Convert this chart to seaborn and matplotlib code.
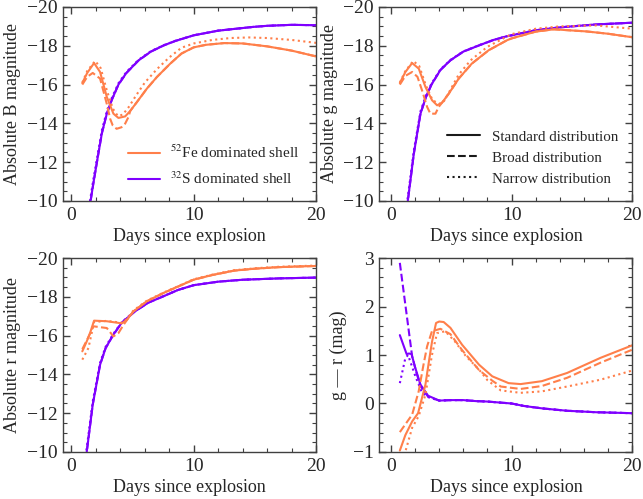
import numpy as np
import pandas as pd
import matplotlib
matplotlib.use('Agg')
import matplotlib.pyplot as plt
import seaborn as sns
from matplotlib.ticker import MultipleLocator
from matplotlib.lines import Line2D

# ==========================================
# 1. Light-curve values
# ==========================================
# --- B band ---
fe_B_std_t = [0.9, 1.3, 1.86, 2.35, 2.9, 3.44, 3.85, 4.4, 4.81, 5.36, 6.17, 6.99, 8.08, 9.0, 10.0, 11.0, 12.5, 14.0, 16.0, 18.0, 20.0]
fe_B_std_m = [-16.08, -16.6, -17.11, -16.65, -15.36, -14.5, -14.28, -14.36, -14.64, -15.1, -15.79, -16.39, -17.08, -17.6, -17.92, -18.05, -18.14, -18.12, -17.97, -17.75, -17.45]
fe_B_brd_t = [0.9, 1.3, 1.75, 2.35, 2.9, 3.17, 3.38, 3.7, 4.1, 4.4, 4.67, 4.81, 5.36, 6.17, 6.99, 8.08, 9.0, 10.0, 11.0, 12.5, 14.0, 16.0, 18.0, 20.0]
fe_B_brd_m = [-16.0, -16.4, -16.6, -16.31, -15.0, -14.24, -13.9, -13.72, -13.8, -13.99, -14.33, -14.64, -15.1, -15.79, -16.39, -17.08, -17.6, -17.92, -18.05, -18.14, -18.12, -17.97, -17.75, -17.45]
fe_B_nar_t = [0.9, 1.3, 1.95, 2.4, 2.9, 3.4, 3.8, 4.2, 4.7, 5.3, 6.0, 7.0, 8.0, 9.0, 10.0, 11.5, 13.0, 14.5, 16.0, 18.0, 20.0]
fe_B_nar_m = [-16.1, -16.7, -17.22, -16.85, -15.7, -14.75, -14.38, -14.45, -14.85, -15.45, -16.1, -16.8, -17.4, -17.9, -18.12, -18.3, -18.4, -18.43, -18.4, -18.3, -18.15]
s_B_t = [1.45, 1.8, 2.21, 2.5, 2.9, 3.3, 3.85, 4.5, 5.5, 6.5, 7.55, 8.5, 10.0, 12.0, 14.8, 16.0, 18.0, 20.0]
s_B_m = [-9.5, -10.9, -12.44, -13.5, -14.5, -15.2, -16.0, -16.6, -17.25, -17.7, -18.02, -18.25, -18.54, -18.78, -18.97, -19.03, -19.08, -19.06]
s_B_nar_m = [-9.7, -11.1, -12.6, -13.65, -14.62, -15.3, -16.07, -16.65, -17.28, -17.72, -18.03, -18.26, -18.54, -18.78, -18.97, -19.03, -19.08, -19.06]

# --- g band ---
fe_g_std_t = [0.74, 1.2, 1.76, 2.31, 2.86, 3.41, 3.83, 4.24, 4.79, 5.62, 6.7, 8.1, 9.6, 10.0, 12.0, 13.5, 16.2, 18.0, 20.0]
fe_g_std_m = [-16.08, -16.65, -17.11, -16.82, -15.88, -15.19, -14.93, -15.07, -15.53, -16.31, -17.08, -17.77, -18.28, -18.38, -18.73, -18.85, -18.74, -18.62, -18.44]
fe_g_brd_t = [0.74, 1.2, 1.76, 2.2, 2.58, 3.0, 3.27, 3.69, 3.96, 4.24, 4.79, 5.62, 6.7, 8.1, 9.6, 10.0, 12.0, 13.5, 16.2, 18.0, 20.0]
fe_g_brd_m = [-16.0, -16.45, -16.65, -16.4, -15.7, -14.85, -14.5, -14.5, -14.85, -15.07, -15.53, -16.31, -17.08, -17.77, -18.28, -18.38, -18.73, -18.85, -18.74, -18.62, -18.44]
fe_g_nar_t = [0.74, 1.2, 1.85, 2.35, 2.9, 3.45, 4.0, 4.4, 4.9, 5.6, 6.6, 8.0, 10.0, 12.0, 14.0, 17.0, 20.0]
fe_g_nar_m = [-16.1, -16.7, -17.22, -16.95, -15.95, -15.2, -15.0, -15.15, -15.7, -16.5, -17.25, -17.95, -18.6, -18.88, -19.0, -19.05, -18.88]
s_g_t = [1.3, 1.4, 1.9, 2.45, 2.9, 3.36, 4.1, 4.93, 6.0, 7.3, 8.5, 9.6, 12.0, 14.0, 17.0, 20.0]
s_g_m = [-9.6, -10.0, -12.44, -14.5, -15.35, -16.0, -16.75, -17.25, -17.7, -18.02, -18.3, -18.49, -18.8, -18.95, -19.1, -19.19]
s_g_nar_m = [-9.8, -10.2, -12.6, -14.62, -15.43, -16.05, -16.78, -17.27, -17.71, -18.03, -18.3, -18.49, -18.8, -18.95, -19.1, -19.19]

# --- r band ---
fe_r_std_t = [0.9, 1.26, 1.53, 1.86, 2.9, 4.13, 4.54, 5.08, 6.17, 7.54, 9.98, 11.5, 13.3, 15.0, 17.0, 20.0]
fe_r_std_m = [-15.19, -15.7, -16.13, -16.77, -16.74, -16.63, -16.82, -17.25, -17.77, -18.2, -18.88, -19.12, -19.35, -19.45, -19.53, -19.59]
fe_r_brd_t = [0.9, 1.26, 1.53, 1.8, 2.9, 3.44, 3.85, 4.27, 4.6, 5.08, 6.17, 7.54, 9.98, 11.5, 13.3, 15.0, 17.0, 20.0]
fe_r_brd_m = [-15.3, -15.75, -16.1, -16.48, -16.39, -15.96, -16.13, -16.56, -16.85, -17.25, -17.77, -18.2, -18.88, -19.12, -19.35, -19.45, -19.53, -19.59]
fe_r_nar_t = [0.9, 1.4, 1.86, 2.9, 4.13, 4.54, 5.08, 6.17, 7.54, 9.98, 11.5, 13.3, 15.0, 17.0, 20.0]
fe_r_nar_m = [-14.76, -15.36, -16.7, -16.76, -16.66, -16.85, -17.3, -17.8, -18.22, -18.9, -19.14, -19.37, -19.47, -19.55, -19.61]
s_r_t = [1.15, 1.26, 1.75, 2.35, 2.8, 3.39, 4.1, 5.2, 6.3, 7.5, 8.7, 10.0, 12.0, 14.0, 17.0, 20.0]
s_r_m = [-9.6, -10.0, -12.44, -14.5, -15.35, -16.0, -16.65, -17.25, -17.7, -18.02, -18.35, -18.6, -18.78, -18.88, -18.95, -18.99]
s_r_nar_m = [-9.8, -10.2, -12.6, -14.6, -15.42, -16.05, -16.68, -17.27, -17.71, -18.03, -18.35, -18.6, -18.78, -18.88, -18.95, -18.99]

# --- g - r colour ---
fe_gr_std_t = [0.74, 1.2, 1.76, 2.25, 2.86, 3.2, 3.41, 3.74, 4.0, 4.37, 4.93, 5.9, 7.3, 8.4, 9.75, 10.74, 12.5, 14.6, 17.35, 20.0]
fe_gr_std_c = [-0.97, -0.65, -0.37, -0.2, 0.39, 0.95, 1.28, 1.66, 1.69, 1.68, 1.56, 1.21, 0.8, 0.56, 0.42, 0.40, 0.46, 0.63, 0.94, 1.2]
fe_gr_brd_t = [0.74, 1.76, 2.3, 2.7, 3.0, 3.4, 4.1, 4.93, 5.9, 7.3, 8.4, 9.1, 10.74, 12.5, 14.6, 17.35, 20.0]
fe_gr_brd_c = [-0.59, -0.23, 0.25, 0.8, 1.18, 1.49, 1.54, 1.43, 1.1, 0.69, 0.47, 0.35, 0.30, 0.36, 0.53, 0.84, 1.11]
fe_gr_nar_t = [0.74, 1.2, 1.76, 2.3, 2.86, 3.4, 3.82, 4.5, 5.3, 6.2, 7.3, 8.0, 9.1, 10.74, 12.5, 14.6, 17.35, 20.0]
fe_gr_nar_c = [-1.4, -0.99, -0.5, -0.26, 0.18, 1.0, 1.45, 1.49, 1.28, 0.98, 0.70, 0.48, 0.27, 0.22, 0.25, 0.35, 0.49, 0.68]
s_gr_std_t = [0.74, 1.3, 1.5, 1.71, 2.0, 2.45, 3.08, 4.0, 5.0, 6.0, 7.0, 8.0, 9.0, 10.0, 11.0, 12.5, 14.6, 17.0, 20.0]
s_gr_std_c = [1.41, 1.02, 1.03, 1.02, 0.75, 0.39, 0.16, 0.06, 0.07, 0.07, 0.05, 0.04, 0.02, 0.0, -0.05, -0.1, -0.15, -0.18, -0.2]
s_gr_brd_t = [0.74, 1.76, 2.1, 2.45, 3.08, 4.0, 5.0, 6.0, 7.0, 8.0, 9.0, 10.0, 11.0, 12.5, 14.6, 17.0, 20.0]
s_gr_brd_c = [2.9, 0.97, 0.65, 0.36, 0.14, 0.06, 0.07, 0.07, 0.05, 0.04, 0.02, 0.0, -0.05, -0.1, -0.15, -0.18, -0.2]
s_gr_nar_t = [0.74, 1.2, 1.42, 2.03, 2.58, 3.1, 4.0, 5.0, 6.0, 7.0, 8.0, 9.0, 10.0, 11.0, 12.5, 14.6, 17.0, 20.0]
s_gr_nar_c = [0.42, 0.94, 1.0, 0.56, 0.22, 0.13, 0.06, 0.07, 0.07, 0.05, 0.04, 0.02, 0.0, -0.05, -0.1, -0.15, -0.18, -0.2]

FE = '#ff7f4a'
S = '#7f00ff'

# ==========================================
# 2. Style
# ==========================================
sns.set_theme(style='ticks')
plt.rcParams['font.family'] = ['Liberation Serif', 'DejaVu Serif']
plt.rcParams['mathtext.fontset'] = 'stix'
plt.rcParams['axes.unicode_minus'] = True

fig, axes = plt.subplots(2, 2, figsize=(6.43, 4.99), dpi=100)
fig.subplots_adjust(left=0.0985, right=0.9834, top=0.986, bottom=0.0942, wspace=0.25, hspace=0.294)


def draw(ax, t, v, color, ls):
    sns.lineplot(x=t, y=v, ax=ax, color=color, linestyle=ls, lw=1.5,
                 sort=False, estimator=None)


mag_panels = [
    (axes[0, 0], 'Absolute B magnitude',
     [(fe_B_std_t, fe_B_std_m, '-'), (fe_B_brd_t, fe_B_brd_m, '--'), (fe_B_nar_t, fe_B_nar_m, ':')],
     [(s_B_t, s_B_m, '-'), (s_B_t, s_B_m, '--'), (s_B_t, s_B_nar_m, ':')]),
    (axes[0, 1], 'Absolute g magnitude',
     [(fe_g_std_t, fe_g_std_m, '-'), (fe_g_brd_t, fe_g_brd_m, '--'), (fe_g_nar_t, fe_g_nar_m, ':')],
     [(s_g_t, s_g_m, '-'), (s_g_t, s_g_m, '--'), (s_g_t, s_g_nar_m, ':')]),
    (axes[1, 0], 'Absolute r magnitude',
     [(fe_r_std_t, fe_r_std_m, '-'), (fe_r_brd_t, fe_r_brd_m, '--'), (fe_r_nar_t, fe_r_nar_m, ':')],
     [(s_r_t, s_r_m, '-'), (s_r_t, s_r_m, '--'), (s_r_t, s_r_nar_m, ':')]),
]

for ax, ylab, fe_lines, s_lines in mag_panels:
    for t, v, ls in s_lines:
        draw(ax, t, v, S, ls)
    for t, v, ls in fe_lines:
        draw(ax, t, v, FE, ls)
    ax.set_ylim(-10, -20)
    ax.set_ylabel(ylab, fontsize=13)
    ax.yaxis.set_major_locator(MultipleLocator(2))
    ax.yaxis.set_minor_locator(MultipleLocator(0.5))

ax = axes[1, 1]
for t, v, ls in [(s_gr_std_t, s_gr_std_c, '-'), (s_gr_brd_t, s_gr_brd_c, '--'), (s_gr_nar_t, s_gr_nar_c, ':')]:
    draw(ax, t, v, S, ls)
for t, v, ls in [(fe_gr_std_t, fe_gr_std_c, '-'), (fe_gr_brd_t, fe_gr_brd_c, '--'), (fe_gr_nar_t, fe_gr_nar_c, ':')]:
    draw(ax, t, v, FE, ls)
ax.set_ylim(-1, 3)
ax.set_ylabel('g \u2014 r (mag)', fontsize=13)
ax.yaxis.set_major_locator(MultipleLocator(1))
ax.yaxis.set_minor_locator(MultipleLocator(0.2))

for i, ax in enumerate(axes.flat):
    ax.set_xlim(-0.65 if i % 2 == 0 else -0.95, 20)
    ax.set_xlabel('Days since explosion', fontsize=13, labelpad=3)
    ax.xaxis.set_major_locator(MultipleLocator(10))
    ax.xaxis.set_minor_locator(MultipleLocator(2))
    ax.tick_params(which='both', direction='in', top=True, right=True,
                   labelsize=14, color='0.25', pad=4)
    ax.tick_params(which='major', length=5, width=1)
    ax.tick_params(which='minor', length=3, width=0.8)
    for sp in ax.spines.values():
        sp.set_color('0.25')
        sp.set_linewidth(1)

# Legends
h1 = [Line2D([], [], color=FE, lw=1.5), Line2D([], [], color=S, lw=1.5)]
axes[0, 0].legend(h1, ['$^{52}$Fe dominated shell', '$^{32}$S dominated shell'],
                  loc='lower left', bbox_to_anchor=(0.2, 0.0), frameon=False,
                  fontsize=11, handlelength=2.1, handletextpad=0.7,
                  labelspacing=0.6)
h2 = [Line2D([], [], color='k', lw=1.5, ls=s) for s in ['-', '--', ':']]
axes[0, 1].legend(h2, ['Standard distribution', 'Broad distribution', 'Narrow distribution'],
                  loc='lower left', bbox_to_anchor=(0.215, 0.01), frameon=False,
                  fontsize=10.8, handlelength=2.2, labelspacing=0.5, handletextpad=0.8)

plt.savefig('out.png', dpi=100)
